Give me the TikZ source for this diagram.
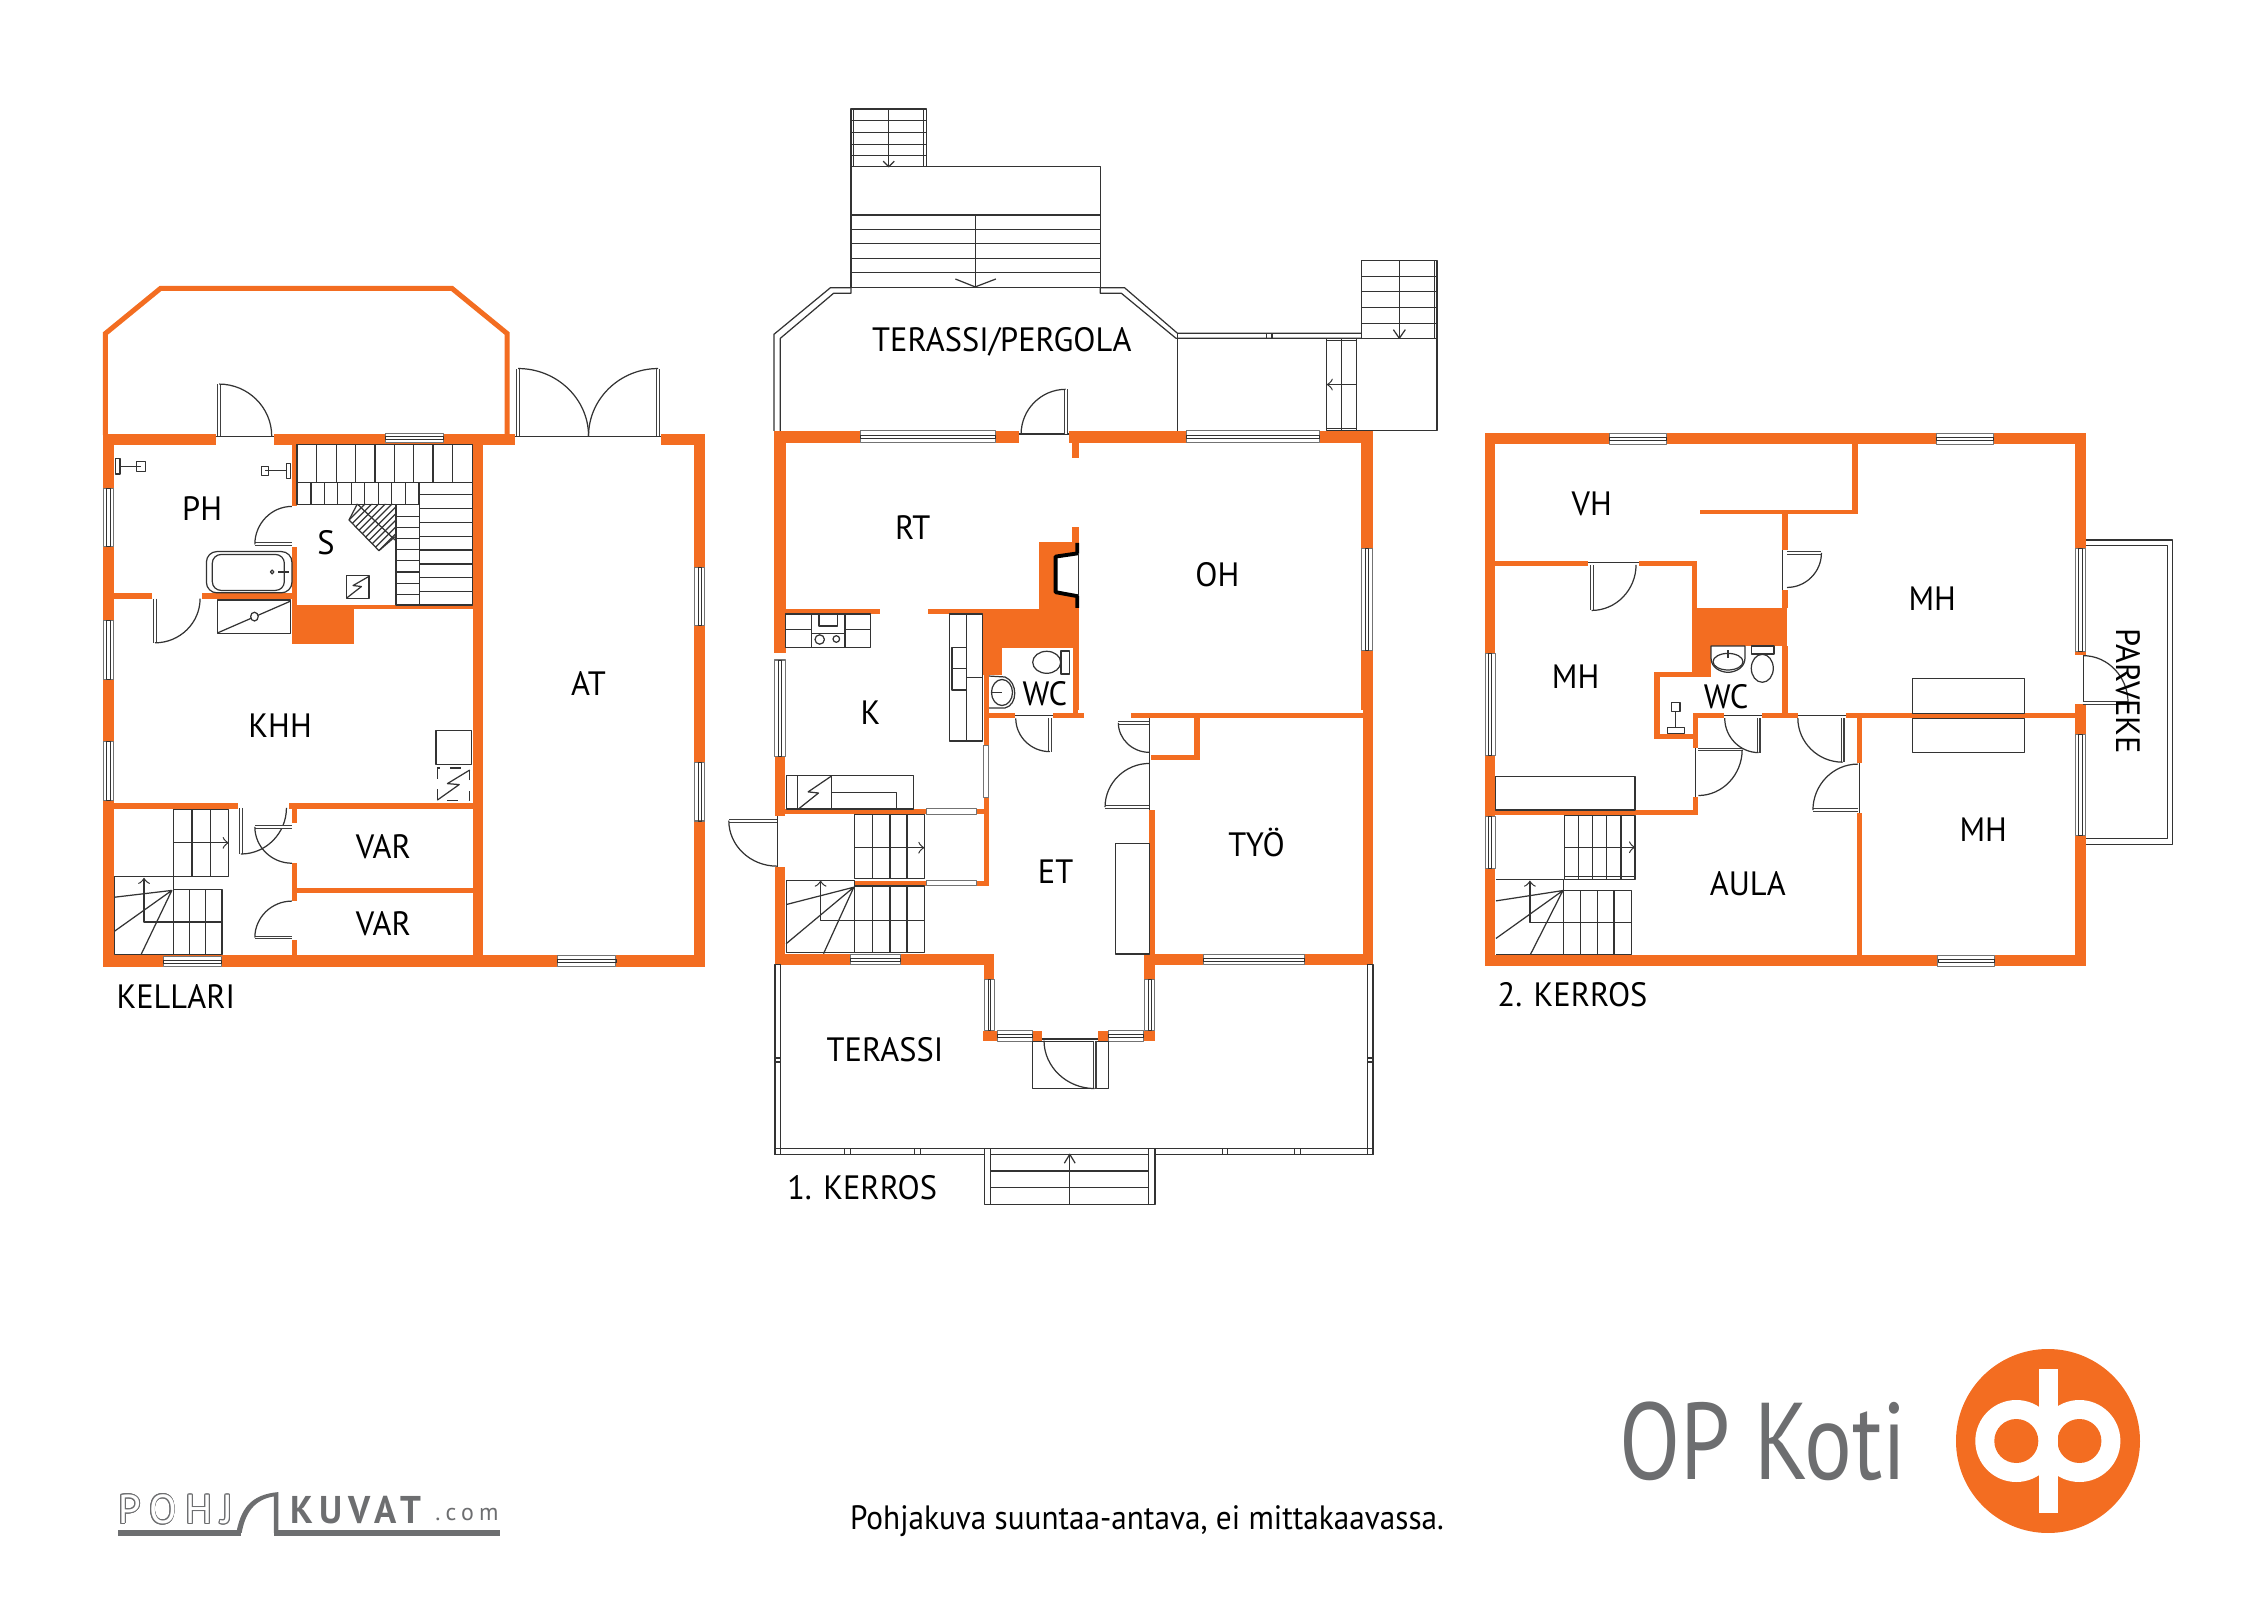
\documentclass[tikz,border=0pt]{standalone}
\usepackage{fontspec}
\usepackage{contour}
\usetikzlibrary{arrows,calc}
\setmainfont[FakeStretch=0.96]{PT Sans}
\newfontfamily\logofont[LetterSpace=22]{PT Sans}
\newfontfamily\logobold[LetterSpace=16,FakeStretch=0.95]{PT Sans}
\newfontfamily\capfont[FakeStretch=0.925]{PT Sans}
\newfontfamily\kotifont[FakeStretch=0.82]{PT Sans}
\contourlength{0.25pt}
\definecolor{opOrange}{HTML}{F36D21}
\definecolor{opGray}{HTML}{6D6E70}
\tikzset{
    wall/.style={fill=opOrange, draw=none},
    wallline/.style={draw=opOrange, line width=0.05cm, line join=miter},
    fix/.style={draw=black!80, line width=0.35pt},
    win/.style={draw=black!55, line width=0.3pt, fill=white},
    leaf/.style={draw=black!75, line width=0.3pt, double=white, double distance=0.45pt},
    room/.style={font=\fontsize{9.6}{11}\selectfont, inner sep=0pt},
    kellari/.style={shift={(80,270)}, x=0.004209cm, y=-0.004847cm},
    kerrosa/.style={shift={(750,90)}, x=0.004591cm, y=-0.003954cm},
    kerrosb/.style={shift={(750,660)}, x=0.004146cm, y=-0.0037cm},
    kerrosc/.style={shift={(1470,420)}, x=0.004719cm, y=-0.003827cm},
    logoa/.style={shift={(80,1320)}, x=0.00893cm, y=-0.003333cm}
}
\newcommand{\door}[3]{
    \draw[leaf] (#1) -- (#2);
    \draw[fix] (#2) .. controls ($(#2)+0.55*(#3)-0.55*(#1)$) and ($(#3)+0.55*(#2)-0.55*(#1)$) .. (#3);
}
\newcommand{\winh}[4]{
    \draw[win] (#1,#3) rectangle (#2,#4);
    \draw[fix, line width=0.25pt] ($(#1,#3)!.35!(#1,#4)$) rectangle ($(#2,#3)!.65!(#2,#4)$);
}
\newcommand{\winv}[4]{
    \draw[win] (#1,#3) rectangle (#2,#4);
    \draw[fix, line width=0.25pt] ($(#1,#3)!.35!(#2,#3)$) rectangle ($(#1,#4)!.65!(#2,#4)$);
}
\begin{document}
\begin{tikzpicture}[line join=round, >=to, x=0.01cm, y=-0.01cm]
    \useasboundingbox (0,0) rectangle (2262,1600);

    \begin{scope}[kellari]
    \draw[wallline] (60,340) -- (60,131) -- (191,38) -- (883,38) -- (1014,131) -- (1014,340);
    \foreach \xa/\ya/\xb/\yb in {55/338/322/360, 460/338/1032/360, 1378/338/1483/360, 55/338/80/1435, 55/1412/1483/1435, 1458/338/1483/1435, 932/338/957/1435, 80/665/172/677, 290/665/515/677, 503/360/515/487, 503/570/515/690, 515/690/932/698, 503/690/650/770, 80/1098/375/1110, 497/1098/932/1110, 503/1110/515/1140, 503/1222/515/1300, 503/1380/515/1412, 515/1273/932/1283}
        \fill[wall] (\xa,\ya) rectangle (\xb,\yb);
    \winh{725}{862}{337}{356}
    \winh{198}{336}{1414}{1435}
    \winh{1133}{1272}{1412}{1435}
    \foreach \ya/\yb in {450/570, 722/843, 972/1092}
        {\winv{55}{80}{\ya}{\yb}}
    \foreach \ya/\yb in {612/733, 1014/1135}
        {\winv{1458}{1483}{\ya}{\yb}}
    \draw[fix] (322,343) -- (460,343) (1032,343) -- (1378,343);
    \door{330,342}{330,235}{455,342}
    \door{1040,342}{1040,203}{1207,342}
    \door{1372,342}{1372,203}{1207,342}
    \door{503,565}{415,565}{503,487}
    \door{178,677}{178,768}{285,677}
    \door{382,1108}{382,1203}{490,1108}
    \door{503,1147}{415,1147}{503,1222}
    \door{503,1375}{415,1375}{503,1300}
    \draw[fix] (515,360) rectangle (932,437);
    \foreach \x in {562,608,...,885}
        \draw[fix] (\x,360) -- (\x,437);
    \draw[fix] (515,437) rectangle (805,483);
    \foreach \x in {548,580,...,805}
        \draw[fix] (\x,437) -- (\x,483);
    \draw[fix] (805,437) rectangle (932,690);
    \foreach \y in {463,491.5,...,670}
        \draw[fix] (805,\y) -- (932,\y);
    \draw[fix] (750,483) rectangle (805,690);
    \foreach \y in {507,530,...,670}
        \draw[fix] (750,\y) -- (805,\y);
    \draw[fix] (222,1112) rectangle (353,1250);
    \foreach \x in {266,310}
        \draw[fix] (\x,1112) -- (\x,1250);
    \draw[fix, ->] (222,1180) -- (353,1180);
    \draw[fix] (82,1250) rectangle (222,1410);
    \draw[fix] (222,1276) rectangle (337,1410);
    \foreach \x in {260,298}
        \draw[fix] (\x,1276) -- (\x,1410);
    \draw[fix, ->] (337,1343) -- (152,1343) -- (152,1252);
    \draw[fix] (82,1292) -- (218,1278) -- (82,1362) (218,1278) -- (145,1410);
    \draw[fix] (845,948) rectangle (930,1018);
    \draw[fix, dashed] (848,1026) rectangle (925,1092);
    \draw[fix] (848,1092) -- (900,1060) -- (872,1058) -- (925,1030);
    \draw[fix, rounded corners=3pt] (300,580) rectangle (503,665);
    \draw[fix, rounded corners=2.5pt] (314,586) rectangle (485,660);
    \draw[fix] (456,622) circle (4);
    \draw[fix] (470,622) -- (495,622) (485,612) -- (485,632);
    \draw[fix] (326,680) rectangle (500,748);
    \draw[fix] (328,747) -- (500,682);
    \draw[fix, fill=white] (414,714) circle (9);
    \draw[fix] (135,395) rectangle (155,415) (145,405) -- (95,405);
    \draw[fix] (85,388) rectangle (95,420);
    \draw[fix] (430,404) rectangle (448,423) (440,413) -- (490,413);
    \draw[fix] (490,398) rectangle (500,430);
    \draw[fix] (632,630) rectangle (686,677);
    \draw[fix] (634,675) -- (668,652) -- (648,650) -- (684,632);
    \draw(290,492) node[room] (ph) {PH};
    \draw(584,562) node[room] (s) {S};
    \draw(1207,852) node[room] (at) {AT};
    \draw(475,938) node[room] (khh) {KHH};
    \draw(720,1188) node[room] (vara) {VAR};
    \draw(720,1346) node[room] (varb) {VAR};
    \draw(85,1497) node[room, anchor=west] (kellari) {KELLARI};
    \end{scope}

    \begin{scope}
    \clip (349,520) -- (379,550.7) -- (395,536.7) -- (395,504) -- (357.3,504) -- cycle;
    \foreach \k in {0,...,9}
        \draw[fix] (349+3.33*\k,520+3.4*\k) -- ++(50,-50);
    \end{scope}
    \draw[fix] (357.3,504) -- (349,520) -- (379,550.7) -- (395,536.7);
    \draw[fix] (357.3,504) -- (395,540);

    \begin{scope}[kerrosa]
    \draw[fix] (220,48) rectangle (384,194);
    \foreach \y in {78,108,137,166}
        \draw[fix] (220,\y) -- (384,\y);
    \draw[fix] (226,48) -- (226,194) (378,48) -- (378,194) (302,48) -- (302,194);
    \draw[fix] (290,180) -- (302,194) -- (314,180);
    \draw[fix] (220,194) rectangle (762,500);
    \foreach \y in {316,352,389,426,462}
        \draw[fix] (220,\y) -- (762,\y);
    \draw[fix] (490,316) -- (490,500);
    \draw[fix] (447,478) -- (490,498) -- (535,478);
    \draw[fix] (52,862) -- (52,618) -- (175,500) -- (220,500);
    \draw[fix] (66,862) -- (66,628) -- (182,514) -- (220,514) -- (220,500);
    \draw[fix] (762,500) -- (815,500) -- (930,615) -- (1330,615);
    \draw[fix] (762,500) -- (762,514) -- (808,514) -- (927,628) -- (1330,628);
    \draw[fix] (930,615) -- (930,862) (1124,615) -- (1124,628) (1136,615) -- (1136,628);
    \draw[fix] (1320,628) rectangle (1495,862);
    \draw[fix] (1255,628) rectangle (1320,862);
    \draw[fix] (1287,628) -- (1287,862) (1255,634) -- (1320,634) (1255,857) -- (1320,857);
    \draw[fix, ->] (1320,745) -- (1255,745);
    \draw[fix] (1330,432) rectangle (1495,628);
    \foreach \y in {471,510,550,590}
        \draw[fix] (1330,\y) -- (1495,\y);
    \draw[fix] (1413,432) -- (1413,628) (1489,432) -- (1489,628);
    \draw[fix] (1400,606) -- (1413,628) -- (1426,606);
    \foreach \xa/\ya/\xb/\yb in {52/862/585/892, 695/862/1355/892, 700/892/716/930, 52/892/78/1425, 1330/892/1355/1568, 78/1312/283/1325, 388/1312/628/1325, 628/1143/716/1312, 700/1105/716/1143, 508/1312/716/1410, 508/1410/548/1480, 702/1410/716/1568}
        \fill[wall] (\xa,\ya) rectangle (\xb,\yb);
    \fill[white] (716,1172) -- (665,1180) -- (665,1270) -- (716,1280) -- cycle;
    \draw[line width=1.1pt] (712,1145) -- (712,1172) -- (665,1180) -- (665,1270) -- (712,1280) -- (712,1310);
    \draw[fix] (714,1172) -- (714,1280);
    \winh{240}{535}{862}{892}
    \winh{950}{1240}{862}{892}
    \winv{1330}{1355}{1160}{1417}
    \draw[fix] (585,870) -- (695,870);
    \door{687,870}{687,757}{590,870}
    \draw(548,638) node[room] (terassip) {TERASSI/PERGOLA};
    \draw(354,1106) node[room] (rt) {RT};
    \draw(1017,1226) node[room] (oh) {OH};
    \end{scope}

    \draw[fix] (785.7,614) rectangle (870.7,647.3);
    \draw[fix] (811.7,614) -- (811.7,647.3) (845,614) -- (845,647.3);
    \draw[fix] (785.7,629.3) -- (811.7,629.3) (845,629.3) -- (870.7,629.3) (811.7,633.3) -- (845,633.3);
    \draw[fix] (819,614) rectangle (837.3,626);
    \draw[fix] (819.7,639.5) circle (4.7) (836.3,639) circle (3.3);
    \draw[fix] (949.7,614) rectangle (982.7,741);
    \draw[fix] (966.7,614) -- (966.7,741) (966.7,677.3) -- (982.7,677.3);
    \draw[fix] (952,647.3) rectangle (966.7,690) (952,668.3) -- (966.7,668.3);
    \draw[fix] (1061,651) rectangle (1069.3,674);
    \draw[fix] (1046.7,662.3) ellipse (14 and 11);
    \draw[fix] (988.3,676) -- (1005,677) .. controls (1018,682) and (1018,705) .. (1005,708) -- (988.3,708) -- cycle;
    \draw[fix] (1002,692.5) ellipse (10.5 and 13);
    \draw[fix] (992,692.7) -- (1001.7,692.7);

    \begin{scope}[kerrosb]
    \foreach \xa/\ya/\xb/\yb in {1475/0/1500/825, 918/143/1475/158, 1070/158/1083/272, 965/258/1083/272, 962/405/975/800, 60/797/243/825, 363/797/588/825, 950/797/1092/825, 1335/797/1500/825, 60/260/85/422, 60/560/85/825, 85/403/425/417, 545/403/575/417, 250/597/425/611, 545/597/575/611, 563/372/575/610, 563/0/575/232, 575/0/605/40, 563/143/637/158, 730/143/805/158, 778/0/790/158, 563/797/588/865, 948/797/975/865, 562/1003/596/1032, 680/1003/704/1032, 838/1003/864/1032, 948/1003/975/1032}
        \fill[wall] (\xa,\ya) rectangle (\xb,\yb);
    \winv{60}{85}{0}{260}
    \winv{565}{588}{865}{1003}
    \winv{950}{975}{865}{1003}
    \winh{596}{680}{1003}{1032}
    \winh{864}{948}{1003}{1032}
    \winh{243}{363}{797}{825}
    \winh{1092}{1335}{797}{825}
    \draw[win] (563,232) rectangle (575,372);
    \draw[win] (425,403) rectangle (545,417);
    \draw[win] (425,597) rectangle (545,611);
    \draw[fix] (637,150) -- (730,150);
    \draw[fix] (66,422) -- (66,560) (962,158) -- (962,405);
    \door{722,158}{722,248}{640,158}
    \door{962,170}{887,170}{962,250}
    \door{962,398}{855,398}{962,280}
    \door{65,435}{-51,435}{65,558}
    \draw[fix] (881,496) rectangle (962,796);
    \draw[fix] (87,312) rectangle (393,403);
    \draw[fix] (115,312) -- (115,403) (197,312) -- (197,403);
    \draw[fix] (197,358) -- (353,358) -- (353,403);
    \draw[fix] (117,403) -- (165,360) -- (140,357) -- (195,315);
    \draw[fix] (252,418) rectangle (420,592);
    \foreach \x in {295,337,378}
        {\draw[fix] (\x,418) -- (\x,592);
         \draw[fix] (\x,612) -- (\x,792);}
    \draw[fix, ->] (252,508) -- (420,508);
    \draw[fix] (252,612) rectangle (420,792);
    \draw[fix] (87,597) rectangle (252,792);
    \draw[fix, ->] (420,705) -- (170,705) -- (170,597);
    \draw[fix] (87,662) -- (250,615) -- (87,768) (250,615) -- (177,795);
    \draw[fix] (60,825) rectangle (73,1338);
    \draw[fix] (1487,825) rectangle (1500,1338);
    \draw[fix] (60,1077) -- (73,1077) (60,1088) -- (73,1088) (1487,1077) -- (1500,1077) (1487,1088) -- (1500,1088);
    \draw[fix] (60,1323) rectangle (565,1338);
    \draw[fix] (975,1323) rectangle (1500,1338);
    \foreach \x in {228,242,397,411,1137,1150,1312,1325}
        \draw[fix] (\x,1323) -- (\x,1338);
    \draw[fix] (565,1323) rectangle (975,1473);
    \draw[fix] (580,1323) -- (580,1473) (960,1323) -- (960,1473);
    \foreach \y in {1338,1383,1428}
        \draw[fix] (580,\y) -- (960,\y);
    \draw[fix] (757,1362) -- (770,1338) -- (783,1362);
    \draw[fix] (770,1338) -- (770,1473);
    \draw[fix] (680,1032) rectangle (864,1160);
    \draw[fix] (704,1026) -- (838,1026);
    \door{830,1030}{830,1160}{708,1030}
    \draw(290,142) node[room] (k) {K};
    \draw(710,90) node[room] (wca) {WC};
    \draw(736,573) node[room] (et) {ET};
    \draw(1220,495) node[room] (tyo) {TYÖ};
    \draw(325,1055) node[room] (terassi) {TERASSI};
    \draw(88,1428) node[room, anchor=west] (kerrosyksi) {1. KERROS};
    \end{scope}

    \begin{scope}[kerrosc]
    \draw[fix] (1305,313) -- (1490,313) -- (1490,1107) -- (1305,1107);
    \draw[fix] (1305,327) -- (1478,327) -- (1478,1093) -- (1305,1093);
    \foreach \xa/\ya/\xb/\yb in {32/35/296/63, 417/35/988/63, 1110/35/1305/63, 32/63/54/610, 32/875/54/1035, 32/1170/54/1425, 1283/63/1305/335, 1283/1085/1305/1425, 1283/603/1305/613, 1283/740/1305/820, 32/1397/992/1425, 1112/1397/1305/1425, 810/63/822/246, 487/234/822/246, 662/246/674/340, 662/443/674/490, 470/367/482/490, 54/367/250/380, 358/367/482/380, 470/490/672/590, 662/590/674/778, 470/590/510/670, 390/658/510/672, 390/658/403/833, 390/820/484/833, 472/765/484/855, 472/765/538/778, 620/765/695/778, 798/765/1283/778, 820/778/832/895, 820/1025/832/1397, 472/985/484/1030, 54/1018/484/1030}
        \fill[wall] (\xa,\ya) rectangle (\xb,\yb);
    \winh{296}{417}{35}{63}
    \winh{988}{1110}{35}{63}
    \winh{992}{1112}{1397}{1425}
    \winv{32}{54}{610}{875}
    \winv{32}{54}{1035}{1170}
    \winv{1283}{1305}{335}{603}
    \winv{1283}{1305}{820}{1085}
    \draw[fix] (662,340) -- (662,443) (250,372) -- (358,372) (1300,613) -- (1300,740) (538,771) -- (620,771) (695,771) -- (798,771) (478,855) -- (478,985) (826,895) -- (826,1025);
    \door{258,378}{258,497}{352,378}
    \door{672,347}{745,347}{672,437}
    \door{612,778}{612,868}{540,778}
    \door{790,778}{790,893}{695,778}
    \door{484,860}{577,860}{484,980}
    \door{822,1018}{727,1018}{822,898}
    \door{1300,738}{1395,738}{1300,615}
    \draw[fix] (938,675) rectangle (1175,765);
    \draw[fix] (938,780) rectangle (1175,868);
    \draw[fix] (54,930) rectangle (350,1018);
    \draw[fix] (200,1032) rectangle (350,1200);
    \foreach \x in {230,260,290,320}
        \draw[fix] (\x,1032) -- (\x,1200);
    \draw[fix] (200,1192) -- (350,1192);
    \draw[fix, ->] (200,1115) -- (350,1115);
    \draw[fix] (198,1228) rectangle (342,1395);
    \foreach \x in {235,270,305}
        \draw[fix] (\x,1228) -- (\x,1395);
    \draw[fix] (55,1200) -- (198,1200) -- (198,1395) -- (55,1395);
    \draw[fix, ->] (342,1312) -- (127,1312) -- (127,1202);
    \draw[fix] (55,1255) -- (197,1228) -- (55,1353) (197,1228) -- (128,1395);
    \draw(258,220) node[room] (vh) {VH};
    \draw(980,466) node[room] (mha) {MH};
    \draw(224,670) node[room] (mhb) {MH};
    \draw(543,722) node[room] (wcb) {WC};
    \draw(1088,1070) node[room] (mhc) {MH};
    \draw(589,1210) node[room] (aula) {AULA};
    \draw(1395,708) node[room, rotate=-90] (parveke) {PARVEKE};
    \draw(57,1500) node[room, anchor=west] (kerroskaksi) {2. KERROS};
    \end{scope}

    \draw[fix] (1711,646) -- (1745,646) -- (1745,658) .. controls (1745,668) and (1735,672.3) .. (1728,672.3) .. controls (1721,672.3) and (1711,668) .. (1711,658) -- cycle;
    \draw[fix] (1728,661.7) ellipse (15 and 8.3);
    \draw[fix] (1728,650) -- (1728,658);
    \draw[fix] (1751.3,646) rectangle (1774,654);
    \draw[fix] (1762.3,668.3) ellipse (11 and 14);
    \draw[fix] (1671.3,702.7) rectangle (1680,711.7) (1675.7,711.7) -- (1675.7,727);
    \draw[fix] (1667.3,727.3) rectangle (1684.3,733.3);

    \begin{scope}[logoa]
    \fill[opGray] (42,632) rectangle (180,648);
    \fill[opGray] (217,632) rectangle (470,648);
    \fill[opGray] (175,640) .. controls (180,570) and (190,525) .. (222,517) -- (222,640) -- (217,640) -- (217,530) .. controls (195,540) and (185,580) .. (181,640) -- cycle;
    \draw(42,570) node[anchor=west, inner sep=0pt, font=\logofont\fontsize{11.5}{12}\selectfont, text=white] (logopohj) {\contour{opGray}{POHJ}};
    \draw(235,570) node[anchor=west, inner sep=0pt, font=\logobold\bfseries\fontsize{11}{12}\selectfont, text=opGray] (logokuvat) {KUVAT};
    \draw(397,585) node[anchor=west, inner sep=0pt, font=\logofont\fontsize{6.8}{8}\selectfont, text=opGray] (logocom) {.com};
    \end{scope}

    \draw(1147,1521) node[font=\capfont\fontsize{9.6}{11}\selectfont, inner sep=0pt] (caption) {Pohjakuva suuntaa-antava, ei mittakaavassa.};
    \draw(1763,1441) node[font=\kotifont\fontsize{31}{32}\selectfont, inner sep=0pt, text=opGray] (opkoti) {OP Koti};
    \fill[opOrange] (2048,1441) circle (92);
    \fill[white] (2016.3,1441) circle (41) (2079.4,1441) circle (41);
    \fill[opOrange] (2016.3,1441) circle (22) (2079.4,1441) circle (22);
    \fill[white] (2038.5,1369) rectangle (2057.5,1513);
\end{tikzpicture}
\end{document}
